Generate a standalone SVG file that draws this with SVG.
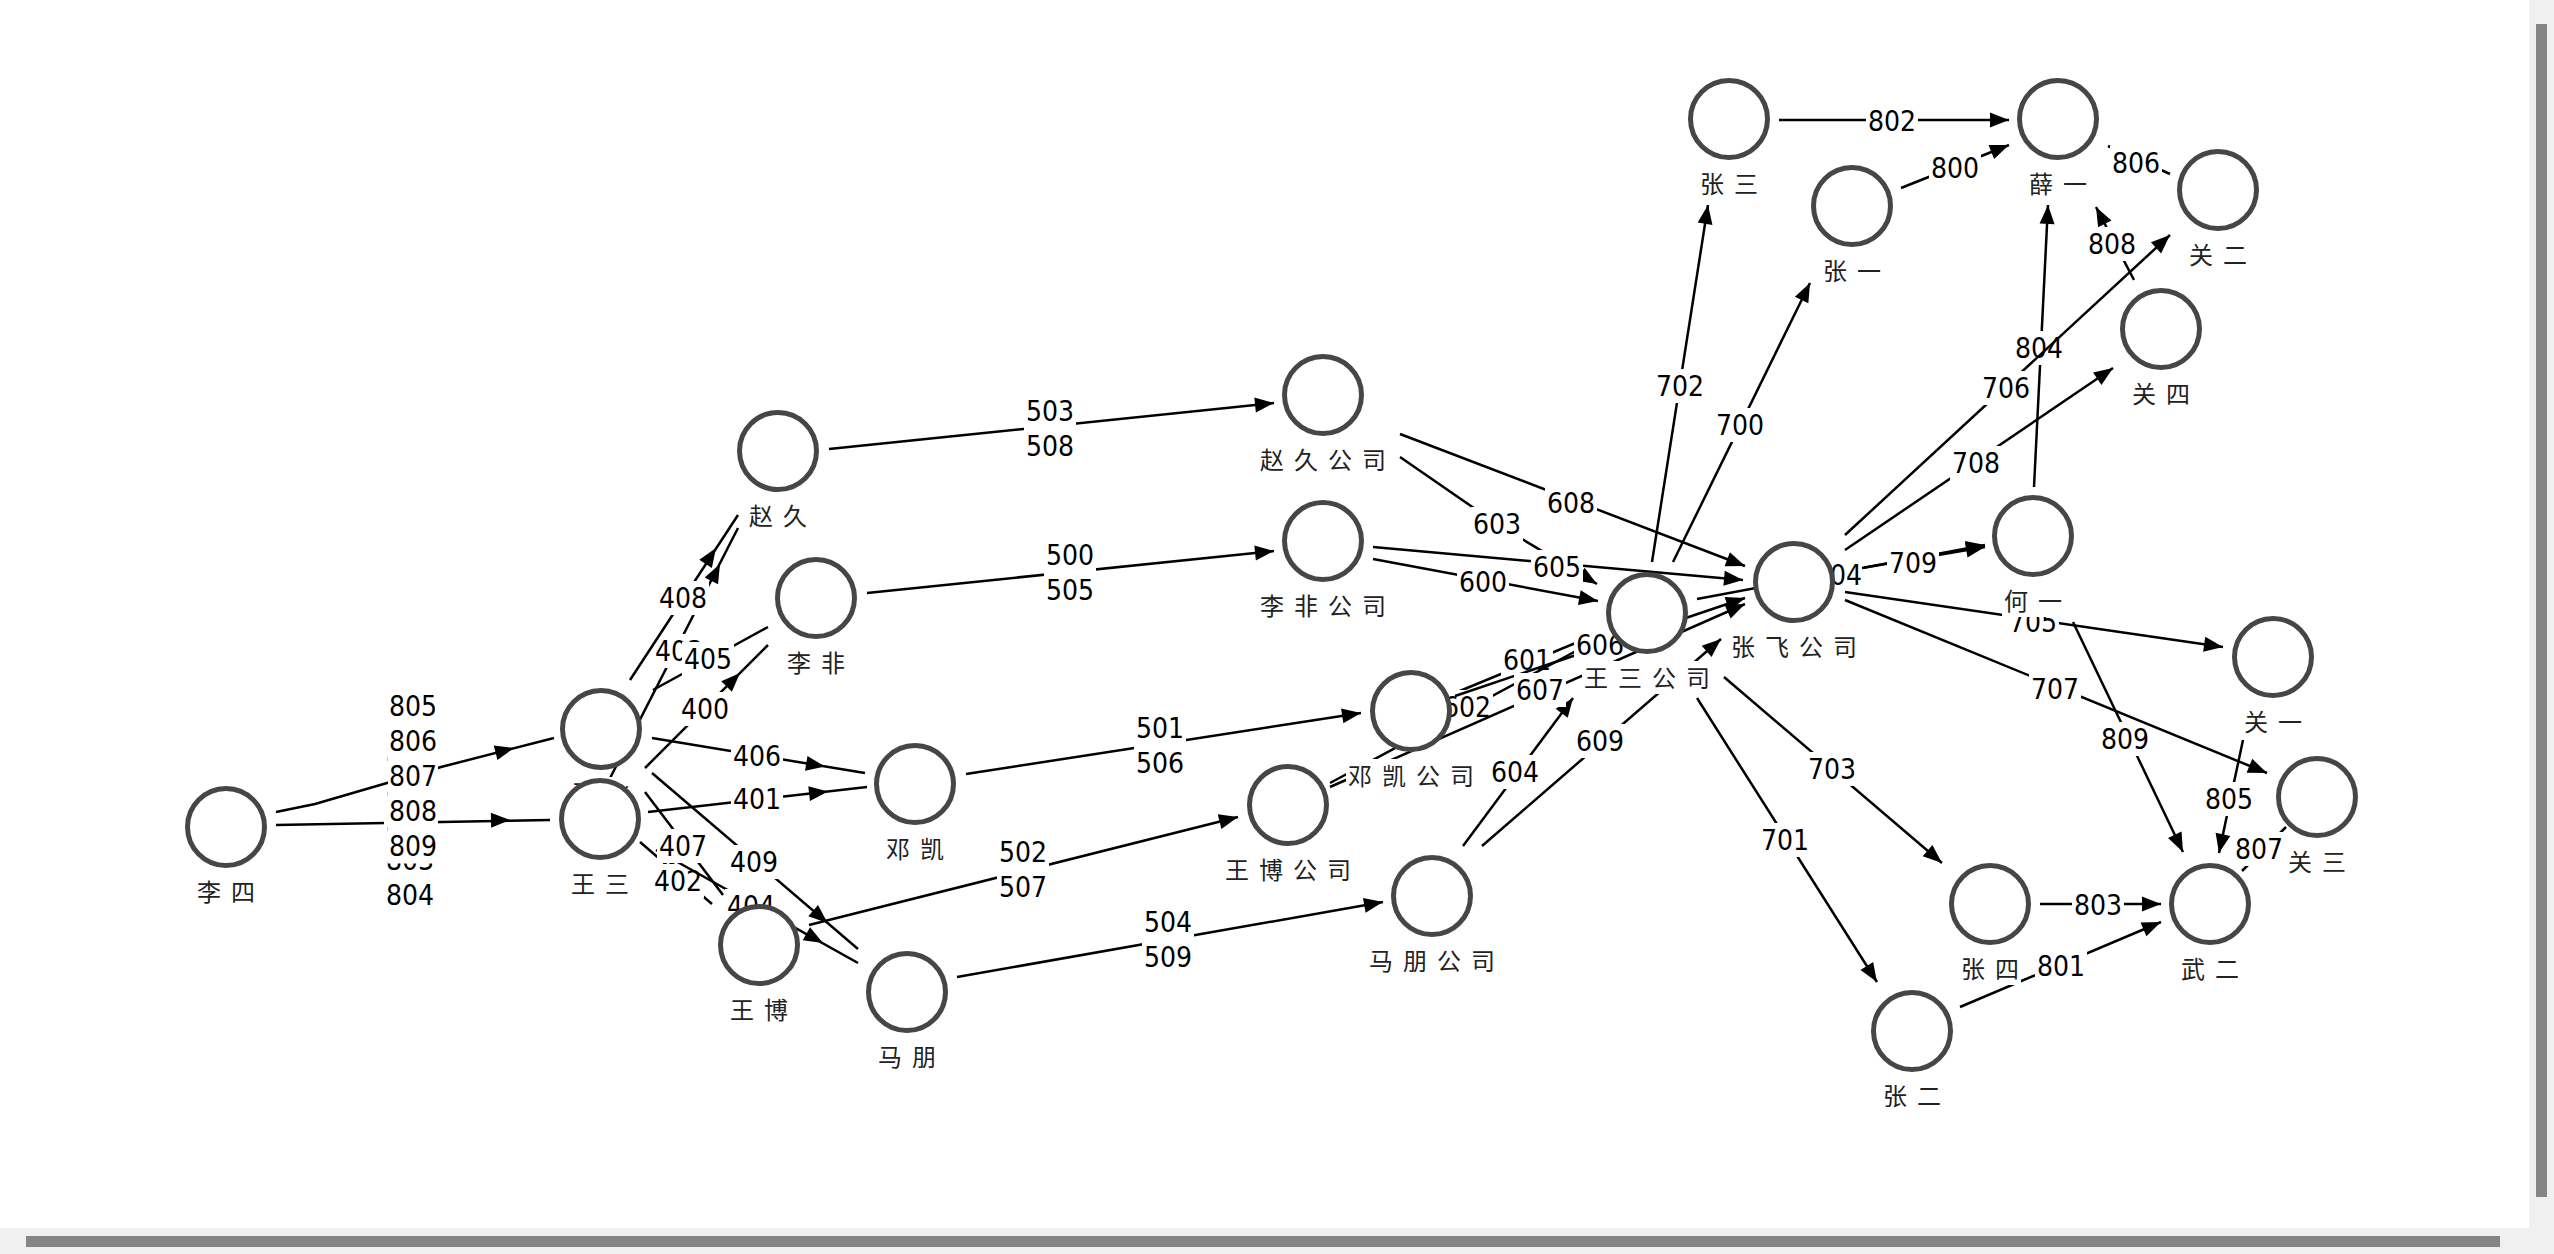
<svg xmlns="http://www.w3.org/2000/svg" xmlns:xlink="http://www.w3.org/1999/xlink" width="2554" height="1254" viewBox="0 0 2554 1254">
<style>
.n circle{fill:#fff;stroke:#464646;stroke-width:5}
.nl{font-family:"Noto Sans CJK SC","Noto Sans CJK JP",sans-serif;font-size:24px;letter-spacing:10px;fill:#222;text-anchor:middle}
.e path{stroke:#000;stroke-width:2.5;fill:none}
.lb{fill:#fff}
.el{font-family:"DejaVu Sans Condensed","DejaVu Sans",sans-serif;font-stretch:condensed;font-size:28px;fill:#000;text-anchor:middle}
</style>
<defs>
<path id="ah" d="M0,0 L-19,-7.5 L-19,7.5 Z" fill="#000"/>
</defs>
<rect width="2554" height="1254" fill="#fff"/>
<g id="edges" class="e">
<g id="e-lisi-wangsan"><path d="M276,825 L385,823 L550,820"/><use xlink:href="#ah" transform="translate(510,820) rotate(-1)"/><rect class="lb" x="384" y="737.5" width="52" height="175"/><text class="el" x="410" y="765"><tspan x="410">800</tspan><tspan x="410" dy="35">801</tspan><tspan x="410" dy="35">802</tspan><tspan x="410" dy="35">803</tspan><tspan x="410" dy="35">804</tspan></text></g>
<g id="e-lisi-zhangfei"><path d="M276,812 L315,804 L387,783 L441,767 L554,738"/><use xlink:href="#ah" transform="translate(514,748) rotate(-14.4)"/><rect class="lb" x="388" y="688.5" width="50" height="175"/><text class="el" x="413" y="716"><tspan x="413">805</tspan><tspan x="413" dy="35">806</tspan><tspan x="413" dy="35">807</tspan><tspan x="413" dy="35">808</tspan><tspan x="413" dy="35">809</tspan></text></g>
<g id="e400"><path d="M645,768 L768,645"/><use xlink:href="#ah" transform="translate(740,673) rotate(-45)"/><rect class="lb" x="679" y="692" width="52" height="34"/><text class="el" x="705" y="719">400</text></g>
<g id="e401"><path d="M648,812 L867,787"/><use xlink:href="#ah" transform="translate(828,791.5) rotate(-6.5)"/><rect class="lb" x="731" y="782" width="52" height="34"/><text class="el" x="757" y="809">401</text></g>
<g id="e402"><path d="M640,842 L712,904"/><use xlink:href="#ah" transform="translate(682,878) rotate(40.7)"/><rect class="lb" x="652" y="864" width="52" height="34"/><text class="el" x="678" y="891">402</text></g>
<g id="e403"><path d="M606,786 L738,528"/><use xlink:href="#ah" transform="translate(720,564) rotate(-62.9)"/><rect class="lb" x="653" y="634" width="52" height="34"/><text class="el" x="679" y="661">403</text></g>
<g id="e404"><path d="M656,850 L858,963"/><use xlink:href="#ah" transform="translate(823,943) rotate(29.2)"/><rect class="lb" x="725" y="889" width="52" height="34"/><text class="el" x="751" y="916">404</text></g>
<g id="e405"><path d="M653,690 L768,627"/><use xlink:href="#ah" transform="translate(733,646) rotate(-28.7)"/><rect class="lb" x="682" y="642" width="52" height="34"/><text class="el" x="708" y="669">405</text></g>
<g id="e406"><path d="M652,738 L865,773"/><use xlink:href="#ah" transform="translate(825,766.5) rotate(9.3)"/><rect class="lb" x="731" y="739" width="52" height="34"/><text class="el" x="757" y="766">406</text></g>
<g id="e407"><path d="M645,792 L723,895"/><use xlink:href="#ah" transform="translate(699,863) rotate(52.9)"/><rect class="lb" x="657" y="829" width="52" height="34"/><text class="el" x="683" y="856">407</text></g>
<g id="e408"><path d="M630,680 L738,515"/><use xlink:href="#ah" transform="translate(716,548) rotate(-56.8)"/><rect class="lb" x="657" y="581" width="52" height="34"/><text class="el" x="683" y="608">408</text></g>
<g id="e409"><path d="M652,773 L858,949"/><use xlink:href="#ah" transform="translate(827.6,923) rotate(40.5)"/><rect class="lb" x="728" y="845" width="52" height="34"/><text class="el" x="754" y="872">409</text></g>
<g id="e500"><path d="M867,593 L1274,551"/><use xlink:href="#ah" transform="translate(1274,551) rotate(-5.9)"/><rect class="lb" x="1044" y="537.5" width="52" height="69"/><text class="el" x="1070" y="565"><tspan x="1070">500</tspan><tspan x="1070" dy="34.5">505</tspan></text></g>
<g id="e501"><path d="M966,774 L1361,713"/><use xlink:href="#ah" transform="translate(1361,713) rotate(-8.8)"/><rect class="lb" x="1134" y="710.5" width="52" height="69"/><text class="el" x="1160" y="738"><tspan x="1160">501</tspan><tspan x="1160" dy="34.5">506</tspan></text></g>
<g id="e502"><path d="M809,925 L1238,817"/><use xlink:href="#ah" transform="translate(1238,817) rotate(-14.1)"/><rect class="lb" x="997" y="834.5" width="52" height="69"/><text class="el" x="1023" y="862"><tspan x="1023">502</tspan><tspan x="1023" dy="34.5">507</tspan></text></g>
<g id="e503"><path d="M829,449 L1274,403"/><use xlink:href="#ah" transform="translate(1274,403) rotate(-5.9)"/><rect class="lb" x="1024" y="393.5" width="52" height="69"/><text class="el" x="1050" y="421"><tspan x="1050">503</tspan><tspan x="1050" dy="34.5">508</tspan></text></g>
<g id="e504"><path d="M957,977 L1383,902"/><use xlink:href="#ah" transform="translate(1383,902) rotate(-10)"/><rect class="lb" x="1142" y="904.5" width="52" height="69"/><text class="el" x="1168" y="932"><tspan x="1168">504</tspan><tspan x="1168" dy="34.5">509</tspan></text></g>
<g id="e600"><path d="M1373,559 L1598,601"/><use xlink:href="#ah" transform="translate(1598,601) rotate(10.6)"/><rect class="lb" x="1457" y="565" width="52" height="34"/><text class="el" x="1483" y="592">600</text></g>
<g id="e601"><path d="M1455,693 L1602,632"/><use xlink:href="#ah" transform="translate(1602,632) rotate(-22.5)"/><rect class="lb" x="1501" y="643" width="52" height="34"/><text class="el" x="1527" y="670">601</text></g>
<g id="e602"><path d="M1330,783 L1604,636"/><use xlink:href="#ah" transform="translate(1604,636) rotate(-28.2)"/><rect class="lb" x="1441" y="690" width="52" height="34"/><text class="el" x="1467" y="717">602</text></g>
<g id="e603"><path d="M1400,457 L1497,524 L1597,584"/><use xlink:href="#ah" transform="translate(1597,584) rotate(31)"/><rect class="lb" x="1471" y="507" width="52" height="34"/><text class="el" x="1497" y="534">603</text></g>
<g id="e604"><path d="M1463,846 L1573,698"/><use xlink:href="#ah" transform="translate(1573,698) rotate(-53.4)"/><rect class="lb" x="1489" y="755" width="52" height="34"/><text class="el" x="1515" y="782">604</text></g>
<g id="e605"><path d="M1373,547 L1743,580"/><use xlink:href="#ah" transform="translate(1743,580) rotate(5.1)"/><rect class="lb" x="1531" y="550" width="52" height="34"/><text class="el" x="1557" y="577">605</text></g>
<g id="e606"><path d="M1455,696 L1745,598"/><use xlink:href="#ah" transform="translate(1745,598) rotate(-18.7)"/><rect class="lb" x="1574" y="628" width="52" height="34"/><text class="el" x="1600" y="655">606</text></g>
<g id="e607"><path d="M1330,787 L1745,604"/><use xlink:href="#ah" transform="translate(1745,604) rotate(-23.8)"/><rect class="lb" x="1514" y="673" width="52" height="34"/><text class="el" x="1540" y="700">607</text></g>
<g id="e608"><path d="M1400,434 L1745,566"/><use xlink:href="#ah" transform="translate(1745,566) rotate(20.9)"/><rect class="lb" x="1545" y="486" width="52" height="34"/><text class="el" x="1571" y="513">608</text></g>
<g id="e609"><path d="M1482,846 L1721,639"/><use xlink:href="#ah" transform="translate(1721,639) rotate(-40.9)"/><rect class="lb" x="1574" y="724" width="52" height="34"/><text class="el" x="1600" y="751">609</text></g>
<g id="e800"><path d="M1901,188 L2009,145"/><use xlink:href="#ah" transform="translate(2009,145) rotate(-21.7)"/><rect class="lb" x="1929" y="151" width="52" height="34"/><text class="el" x="1955" y="178">800</text></g>
<g id="e801"><path d="M1960,1007 L2161,922"/><use xlink:href="#ah" transform="translate(2161,922) rotate(-22.9)"/><rect class="lb" x="2035" y="949" width="52" height="34"/><text class="el" x="2061" y="976">801</text></g>
<g id="e802"><path d="M1779,120 L2009,120"/><use xlink:href="#ah" transform="translate(2009,120)"/><rect class="lb" x="1866" y="104" width="52" height="34"/><text class="el" x="1892" y="131">802</text></g>
<g id="e803"><path d="M2040,904 L2161,904"/><use xlink:href="#ah" transform="translate(2161,904)"/><rect class="lb" x="2072" y="888" width="52" height="34"/><text class="el" x="2098" y="915">803</text></g>
<g id="e804"><path d="M2034,487 L2048,205"/><use xlink:href="#ah" transform="translate(2048,205) rotate(-87.2)"/><rect class="lb" x="2013" y="331" width="52" height="34"/><text class="el" x="2039" y="358">804</text></g>
<g id="e805"><path d="M2243,740 L2219,853"/><use xlink:href="#ah" transform="translate(2219,853) rotate(102)"/><rect class="lb" x="2203" y="782" width="52" height="34"/><text class="el" x="2229" y="809">805</text></g>
<g id="e806"><path d="M2170,174 L2108,146"/><use xlink:href="#ah" transform="translate(2108,146) rotate(-155.7)"/><rect class="lb" x="2110" y="146" width="52" height="34"/><text class="el" x="2136" y="173">806</text></g>
<g id="e807"><path d="M2286,827 L2242,871"/><rect class="lb" x="2233" y="832" width="52" height="34"/><text class="el" x="2259" y="859">807</text></g>
<g id="e808"><path d="M2134,280 L2096,207"/><use xlink:href="#ah" transform="translate(2096,207) rotate(-117.5)"/><rect class="lb" x="2086" y="227" width="52" height="34"/><text class="el" x="2112" y="254">808</text></g>
<g id="e809"><path d="M2073,622 L2183,852"/><use xlink:href="#ah" transform="translate(2183,852) rotate(64.4)"/><rect class="lb" x="2099" y="722" width="52" height="34"/><text class="el" x="2125" y="749">809</text></g>
<g id="e700"><path d="M1673,562 L1810,283"/><use xlink:href="#ah" transform="translate(1810,283) rotate(-63.8)"/><rect class="lb" x="1714" y="408" width="52" height="34"/><text class="el" x="1740" y="435">700</text></g>
<g id="e701"><path d="M1697,698 L1877,982"/><use xlink:href="#ah" transform="translate(1877,982) rotate(57.6)"/><rect class="lb" x="1759" y="823" width="52" height="34"/><text class="el" x="1785" y="850">701</text></g>
<g id="e702"><path d="M1652,562 L1708,205"/><use xlink:href="#ah" transform="translate(1708,205) rotate(-81.1)"/><rect class="lb" x="1654" y="369" width="52" height="34"/><text class="el" x="1680" y="396">702</text></g>
<g id="e703"><path d="M1724,677 L1942,863"/><use xlink:href="#ah" transform="translate(1942,863) rotate(40.5)"/><rect class="lb" x="1806" y="752" width="52" height="34"/><text class="el" x="1832" y="779">703</text></g>
<g id="e704"><path d="M1697,599 L1985,545"/><use xlink:href="#ah" transform="translate(1985,545) rotate(-10.6)"/><rect class="lb" x="1812" y="558" width="52" height="34"/><text class="el" x="1838" y="585">704</text></g>
<g id="e709"><path d="M1862,568 L1985,547"/><use xlink:href="#ah" transform="translate(1985,547) rotate(-9.7)"/><rect class="lb" x="1887" y="546" width="52" height="34"/><text class="el" x="1913" y="573">709</text></g>
<g id="e705"><path d="M1845,592 L2223,647"/><use xlink:href="#ah" transform="translate(2223,647) rotate(8.3)"/><rect class="lb" x="2007" y="605" width="52" height="34"/><text class="el" x="2033" y="632">705</text></g>
<g id="e706"><path d="M1845,535 L2170,235"/><use xlink:href="#ah" transform="translate(2170,235) rotate(-42.7)"/><rect class="lb" x="1980" y="371" width="52" height="34"/><text class="el" x="2006" y="398">706</text></g>
<g id="e707"><path d="M1845,600 L2267,773"/><use xlink:href="#ah" transform="translate(2267,773) rotate(22.3)"/><rect class="lb" x="2029" y="672" width="52" height="34"/><text class="el" x="2055" y="699">707</text></g>
<g id="e708"><path d="M1845,550 L2113,368"/><use xlink:href="#ah" transform="translate(2113,368) rotate(-34.2)"/><rect class="lb" x="1950" y="446" width="52" height="34"/><text class="el" x="1976" y="473">708</text></g>
</g>
<g id="nodes">
<g id="n-lisi" class="n"><circle cx="226" cy="827" r="38.5"/><rect class="lb" x="195" y="875" width="62" height="33"/><text class="nl" x="231" y="901">李四</text></g>
<g id="n-zhangfei" class="n"><circle cx="601" cy="729" r="38.5"/><rect class="lb" x="570" y="777" width="62" height="33"/><text class="nl" x="606" y="803">张飞</text></g>
<g id="n-wangsan" class="n"><circle cx="600" cy="819" r="38.5"/><rect class="lb" x="569" y="867" width="62" height="33"/><text class="nl" x="605" y="893">王三</text></g>
<g id="n-zhaojiu" class="n"><circle cx="778" cy="451" r="38.5"/><rect class="lb" x="747" y="499" width="62" height="33"/><text class="nl" x="783" y="525">赵久</text></g>
<g id="n-lifei" class="n"><circle cx="816" cy="598" r="38.5"/><rect class="lb" x="785" y="646" width="62" height="33"/><text class="nl" x="821" y="672">李非</text></g>
<g id="n-dengkai" class="n"><circle cx="915" cy="784" r="38.5"/><rect class="lb" x="884" y="832" width="62" height="33"/><text class="nl" x="920" y="858">邓凯</text></g>
<g id="n-wangbo" class="n"><circle cx="759" cy="945" r="38.5"/><rect class="lb" x="728" y="993" width="62" height="33"/><text class="nl" x="764" y="1019">王博</text></g>
<g id="n-mapeng" class="n"><circle cx="907" cy="992" r="38.5"/><rect class="lb" x="876" y="1040" width="62" height="33"/><text class="nl" x="912" y="1066">马朋</text></g>
<g id="n-zhaojiugs" class="n"><circle cx="1323" cy="395" r="38.5"/><rect class="lb" x="1258" y="443" width="130" height="33"/><text class="nl" x="1328" y="469">赵久公司</text></g>
<g id="n-lifeigs" class="n"><circle cx="1323" cy="541" r="38.5"/><rect class="lb" x="1258" y="589" width="130" height="33"/><text class="nl" x="1328" y="615">李非公司</text></g>
<g id="n-dengkaigs" class="n"><circle cx="1411" cy="711" r="38.5"/><rect class="lb" x="1346" y="759" width="130" height="33"/><text class="nl" x="1416" y="785">邓凯公司</text></g>
<g id="n-wangbogs" class="n"><circle cx="1288" cy="805" r="38.5"/><rect class="lb" x="1223" y="853" width="130" height="33"/><text class="nl" x="1293" y="879">王博公司</text></g>
<g id="n-mapenggs" class="n"><circle cx="1432" cy="896" r="38.5"/><rect class="lb" x="1367" y="944" width="130" height="33"/><text class="nl" x="1437" y="970">马朋公司</text></g>
<g id="n-wangsangs" class="n"><circle cx="1647" cy="613" r="38.5"/><rect class="lb" x="1582" y="661" width="130" height="33"/><text class="nl" x="1652" y="687">王三公司</text></g>
<g id="n-zhangfeigs" class="n"><circle cx="1794" cy="582" r="38.5"/><rect class="lb" x="1729" y="630" width="130" height="33"/><text class="nl" x="1799" y="656">张飞公司</text></g>
<g id="n-zhangsan" class="n"><circle cx="1729" cy="119" r="38.5"/><rect class="lb" x="1698" y="167" width="62" height="33"/><text class="nl" x="1734" y="193">张三</text></g>
<g id="n-zhangyi" class="n"><circle cx="1852" cy="206" r="38.5"/><rect class="lb" x="1821" y="254" width="62" height="33"/><text class="nl" x="1857" y="280">张一</text></g>
<g id="n-xueyi" class="n"><circle cx="2058" cy="119" r="38.5"/><rect class="lb" x="2027" y="167" width="62" height="33"/><text class="nl" x="2063" y="193">薛一</text></g>
<g id="n-guaner" class="n"><circle cx="2218" cy="190" r="38.5"/><rect class="lb" x="2187" y="238" width="62" height="33"/><text class="nl" x="2223" y="264">关二</text></g>
<g id="n-guansi" class="n"><circle cx="2161" cy="329" r="38.5"/><rect class="lb" x="2130" y="377" width="62" height="33"/><text class="nl" x="2166" y="403">关四</text></g>
<g id="n-heyi" class="n"><circle cx="2033" cy="536" r="38.5"/><rect class="lb" x="2002" y="584" width="62" height="33"/><text class="nl" x="2038" y="610">何一</text></g>
<g id="n-guanyi" class="n"><circle cx="2273" cy="657" r="38.5"/><rect class="lb" x="2242" y="705" width="62" height="33"/><text class="nl" x="2278" y="731">关一</text></g>
<g id="n-guansan" class="n"><circle cx="2317" cy="797" r="38.5"/><rect class="lb" x="2286" y="845" width="62" height="33"/><text class="nl" x="2322" y="871">关三</text></g>
<g id="n-wuer" class="n"><circle cx="2210" cy="904" r="38.5"/><rect class="lb" x="2179" y="952" width="62" height="33"/><text class="nl" x="2215" y="978">武二</text></g>
<g id="n-zhangsi" class="n"><circle cx="1990" cy="904" r="38.5"/><rect class="lb" x="1959" y="952" width="62" height="33"/><text class="nl" x="1995" y="978">张四</text></g>
<g id="n-zhanger" class="n"><circle cx="1912" cy="1031" r="38.5"/><rect class="lb" x="1881" y="1079" width="62" height="33"/><text class="nl" x="1917" y="1105">张二</text></g>
</g>
<g id="scrollbars">
<rect x="2529" y="0" width="25" height="1254" fill="#f0f0f0"/>
<rect x="0" y="1228" width="2554" height="26" fill="#f0f0f0"/>
<rect x="2536" y="24" width="11" height="1173" fill="#858585"/>
<rect x="26" y="1236" width="2474" height="11" fill="#858585"/>
</g>
</svg>
